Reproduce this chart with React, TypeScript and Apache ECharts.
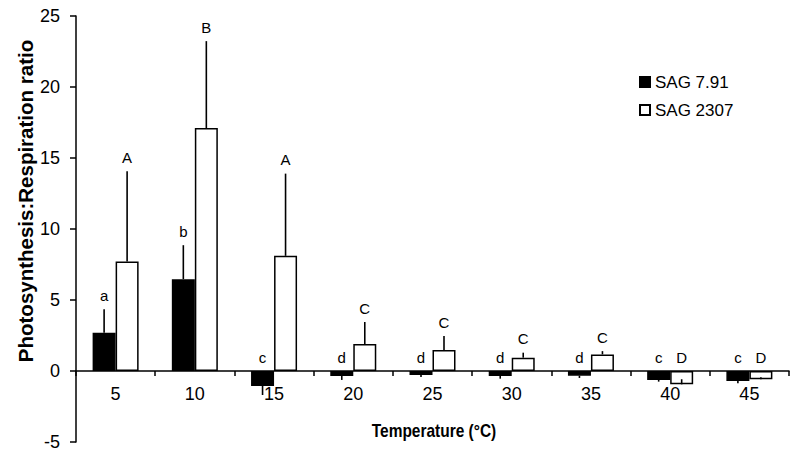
import React, { useEffect, useRef } from "react";
import * as echarts from "echarts";

const categories = ["5", "10", "15", "20", "25", "30", "35", "40", "45"];
const sag791 = [2.69, 6.47, -1.05, -0.35, -0.28, -0.35, -0.33, -0.63, -0.7];
const sag791Err = [1.65, 2.39, -0.64, -0.28, -0.14, -0.19, -0.16, -0.12, -0.17];
const sag791Letters = ["a", "b", "c", "d", "d", "d", "d", "c", "c"];
const sag2307 = [7.71, 17.11, 8.11, 1.9, 1.48, 0.94, 1.17, -0.94, -0.58];
const sag2307Err = [6.35, 6.12, 5.79, 1.55, 0.98, 0.35, 0.23, 0.36, 0.14];
const sag2307Letters = ["A", "B", "A", "C", "C", "C", "C", "D", "D"];
const yTicks = { min: -5, max: 25, interval: 5 };

const FONT = '"Liberation Sans", Arial, sans-serif';
const BAR_W = 23;
const GRID = { left: 76, right: 11, top: 16, bottom: 13 };
const PLOT_H = 455 - GRID.top - GRID.bottom;
// distance from the grid bottom to the zero line, so the category axis sits on y = 0
const ZERO_OFFSET = (PLOT_H * (0 - yTicks.min)) / (yTicks.max - yTicks.min);

function errSeries(name: string, means: number[], errs: number[], letters: string[], offset: number) {
  return {
    type: "custom",
    name,
    z: 5,
    silent: true,
    data: categories.map((_, i) => [i, means[i], errs[i]]),
    encode: { x: 0, y: 1 },
    renderItem: (params: any, api: any) => {
      const i = params.dataIndex;
      const idx = api.value(0);
      const mean = api.value(1);
      const err = api.value(2);
      const base = api.coord([idx, mean]);
      const end = api.coord([idx, mean + err]);
      const anchor = api.coord([idx, Math.max(0, mean + err)]);
      const x = base[0] + offset;
      return {
        type: "group",
        children: [
          {
            type: "line",
            shape: { x1: x, y1: base[1], x2: x, y2: end[1] },
            style: { stroke: "#000", lineWidth: 1.6 },
          },
          {
            type: "text",
            x,
            y: anchor[1] - 14,
            style: {
              text: letters[i],
              fill: "#000",
              fontSize: 15,
              fontFamily: FONT,
              align: "center",
              verticalAlign: "middle",
            },
          },
        ],
      };
    },
  };
}

export default function App() {
  const ref = useRef<HTMLDivElement>(null);
  useEffect(() => {
    if (!ref.current) return;
    const chart = echarts.init(ref.current, null, { renderer: "svg" });
    chart.setOption({
      animation: false,
      backgroundColor: "#fff",
      textStyle: { fontFamily: FONT },
      grid: { ...GRID, containLabel: false, outerBoundsMode: "none" },
      legend: {
        data: ["SAG 7.91", "SAG 2307"],
        orient: "vertical",
        left: 639,
        top: 73,
        padding: 0,
        itemWidth: 10,
        itemHeight: 10,
        itemGap: 10,
        icon: "rect",
        textStyle: { fontSize: 17, lineHeight: 18, color: "#000", fontFamily: FONT },
      },
      xAxis: {
        type: "category",
        data: categories,
        position: "bottom",
        offset: -ZERO_OFFSET,
        axisLine: { onZero: false, lineStyle: { color: "#000", width: 1.5 } },
        axisTick: { show: true, length: 5, lineStyle: { color: "#000", width: 1.5 } },
        axisLabel: { fontSize: 18, color: "#000", margin: 14, fontFamily: FONT },
        splitLine: { show: false },
      },
      yAxis: {
        type: "value",
        min: yTicks.min,
        max: yTicks.max,
        interval: yTicks.interval,
        axisLine: { show: true, lineStyle: { color: "#000", width: 1.5 } },
        axisTick: { show: true, length: 6, lineStyle: { color: "#000", width: 1.5 } },
        axisLabel: { fontSize: 18, color: "#000", margin: 16, fontFamily: FONT },
        splitLine: { show: false },
      },
      graphic: [
        {
          type: "text",
          x: 25,
          y: 201,
          rotation: Math.PI / 2,
          style: {
            text: "Photosynthesis:Respiration ratio",
            fontSize: 20.5,
            fontWeight: "bold",
            fontFamily: FONT,
            fill: "#000",
            align: "center",
            verticalAlign: "middle",
          },
        },
        {
          type: "text",
          x: 434,
          y: 431,
          scaleX: 0.86,
          style: {
            text: "Temperature (°C)",
            fontSize: 18,
            fontWeight: "bold",
            fontFamily: FONT,
            fill: "#000",
            align: "center",
            verticalAlign: "middle",
          },
        },
      ],
      series: [
        {
          type: "bar",
          name: "SAG 7.91",
          data: sag791,
          barWidth: BAR_W,
          barGap: "0%",
          itemStyle: { color: "#000", borderColor: "#000", borderWidth: 1.5 },
        },
        {
          type: "bar",
          name: "SAG 2307",
          data: sag2307,
          barWidth: BAR_W,
          barGap: "0%",
          itemStyle: { color: "#fff", borderColor: "#000", borderWidth: 1.5 },
        },
        errSeries("err791", sag791, sag791Err, sag791Letters, -BAR_W / 2),
        errSeries("err2307", sag2307, sag2307Err, sag2307Letters, BAR_W / 2),
      ],
    });
    return () => chart.dispose();
  }, []);
  return (
    <div
      ref={ref}
      style={{ position: "fixed", left: 0, top: 0, width: 800, height: 455 }}
    />
  );
}
